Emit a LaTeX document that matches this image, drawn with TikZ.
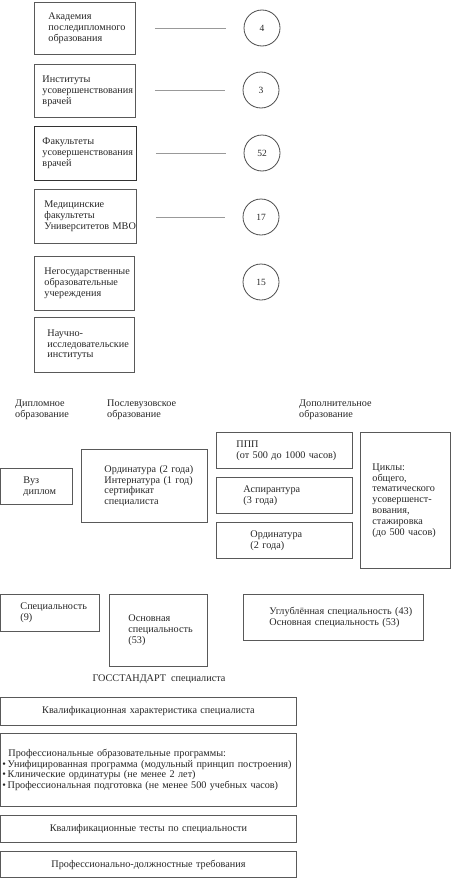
\documentclass[tikz,border=0pt]{standalone}
\usepackage{fontspec}
\setmainfont{Liberation Serif}
\begin{document}
\begin{tikzpicture}[x=1pt,y=-1pt,
  every node/.style={font=\fontsize{10.2}{10.8}\selectfont, text=black!85},
  bx/.style={draw=black!65, line width=0.9pt, anchor=north west, align=left, inner ysep=0pt},
  cbx/.style={draw=black!65, line width=0.9pt, anchor=north west, align=center, inner ysep=0pt},
  num/.style={draw=black!70, line width=0.8pt, circle, minimum size=36pt, inner sep=0pt, font=\fontsize{9.5}{10}\selectfont},
  lnk/.style={draw=black!40, line width=0.8pt, shorten <=19pt, shorten >=18pt},
  hdr/.style={anchor=west, align=left, inner sep=0pt}]
\useasboundingbox (0,0) rectangle (451,878);

% top column of institutions
\node[bx, inner xsep=14pt, text width=73pt, minimum height=52pt] (a1) at (34,2) {Академия\\последипломного\\образования};
\node[bx, inner xsep=8pt, text width=85pt, minimum height=53pt] (a2) at (34,64) {Институты\\усовершенствования\\врачей};
\node[bx, inner xsep=8pt, text width=86pt, minimum height=54pt, draw=black!80] (a3) at (34,126) {Факультеты\\усовершенствования\\врачей};
\node[bx, inner xsep=10pt, text width=82pt, minimum height=54pt] (a4) at (34,189) {Медицинские\\факультеты\\Университетов~МВО};
\node[bx, inner xsep=10pt, text width=80pt, minimum height=54pt] (a5) at (34,256) {Негосударственные\\образовательные\\учереждения};
\node[bx, inner xsep=13pt, text width=74pt, minimum height=55pt] (a6) at (34,317) {Научно-\\исследовательские\\институты};

\node[num] (c1) at (262,28) {4};
\node[num] (c2) at (261,90) {3};
\node[num] (c3) at (262,153) {52};
\node[num] (c4) at (261,217) {17};
\node[num] (c5) at (261,282) {15};

\draw[lnk] (a1.east |- c1) -- (c1);
\draw[lnk] (a2.east |- c2) -- (c2);
\draw[lnk] (a3.east |- c3) -- (c3);
\draw[lnk] (a4.east |- c4) -- (c4);

% headers
\node[hdr] (h1) at (15,410) {Дипломное\\образование};
\node[hdr] (h2) at (107,410) {Послевузовское\\образование};
\node[hdr] (h3) at (299,410) {Дополнительное\\образование};

% middle row
\node[bx, inner xsep=23pt, text width=26pt, minimum height=36pt] (b1) at (0,468) {Вуз\\диплом};
\node[bx, inner xsep=23pt, text width=80pt, minimum height=73pt] (b2) at (81,449) {Ординатура~(2~года)\\Интернатура~(1~год)\\сертификат\\специалиста};
\node[bx, inner xsep=20pt, text width=96pt, minimum height=36pt] (b3) at (216,432) {ППП\\(от~500~до~1000~часов)};
\node[bx, inner xsep=27pt, text width=82pt, minimum height=36pt] (b4) at (216,477) {Аспирантура\\(3~года)};
\node[bx, inner xsep=34pt, text width=68pt, minimum height=36pt] (b5) at (216,522) {Ординатура\\(2~года)};
\node[bx, inner xsep=12pt, text width=66pt, minimum height=136pt] (b6) at (360,432) {Циклы:\\общего,\\тематического\\усовершенст-\\вования,\\стажировка\\(до~500~часов)};

% specialities row
\node[bx, inner xsep=20pt, text width=59pt, minimum height=37pt] (d1) at (0,594) {Специальность\\(9)};
\node[bx, inner xsep=19pt, text width=60pt, minimum height=72pt] (d2) at (109,594) {Основная\\специальность\\(53)};
\node[bx, inner xsep=26pt, text width=128pt, minimum height=46pt] (d3) at (243,594) {Углублённая~специальность~(43)\\Основная~специальность~(53)};

\node[inner sep=0pt] (g) at (159,679) {ГОССТАНДАРТ\ \ специалиста};

% bottom stack
\node[cbx, inner xsep=0pt, text width=296pt, minimum height=28pt] (e1) at (0,697) {Квалификационная характеристика специалиста};
\node[bx, inner xsep=2pt, text width=292pt, minimum height=73pt] (e2) at (0,733) {\hspace{6pt}Профессиональные~образовательные~программы:\\\textbullet\,Унифицированная~программа~(модульный~принцип~построения)\\\textbullet\,Клинические~ординатуры~(не~менее~2~лет)\\\textbullet\,Профессиональная~подготовка~(не~менее~500~учебных~часов)};
\node[cbx, inner xsep=0pt, text width=296pt, minimum height=27pt] (e3) at (0,815) {Квалификационные тесты по специальности};
\node[cbx, inner xsep=0pt, text width=296pt, minimum height=26pt] (e4) at (0,851) {Профессионально-должностные требования};
\end{tikzpicture}
\end{document}
